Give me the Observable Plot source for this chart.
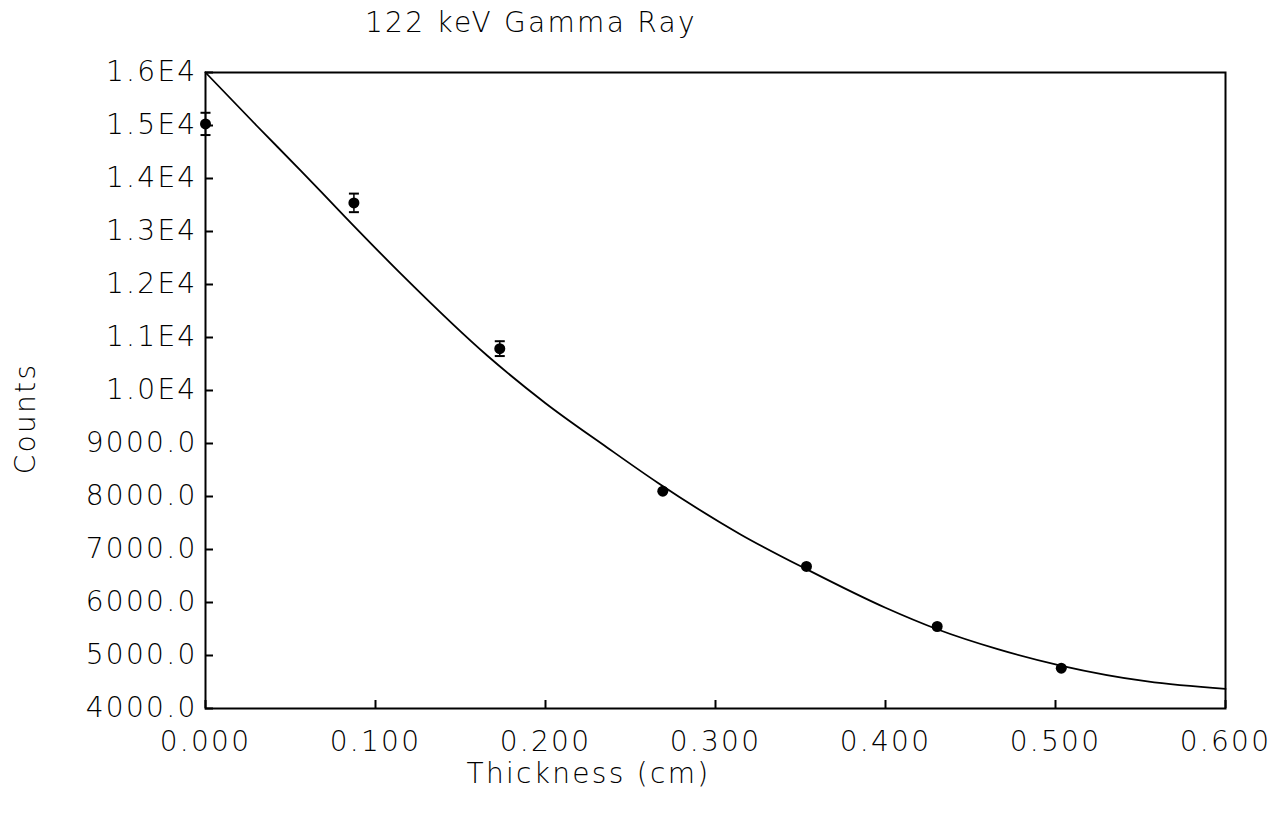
<!DOCTYPE html>
<html><head><meta charset="utf-8">
<script src="https://cdn.jsdelivr.net/npm/d3@7"></script>
<script src="https://cdn.jsdelivr.net/npm/@observablehq/plot@0.6"></script>
<style>
body{margin:0;background:#fff;}
#wrap{position:relative;width:1284px;height:815px;}
#title{position:absolute;left:365px;top:6px;font:200 28px "DejaVu Sans",sans-serif;letter-spacing:2.3px;white-space:nowrap;color:#000;}
</style></head><body><div id="wrap"><div id="title">122 keV Gamma Ray</div></div>
<script>
const thickness = [0, 0.0873, 0.1731, 0.269, 0.3535, 0.4304, 0.5034];
const counts = [15030, 13540, 10790, 8100, 6680, 5547, 4760];
const countErrors = [210, 175, 140, 0, 0, 0, 0];

const fitThickness = [0, 0.030, 0.056, 0.079, 0.115, 0.166, 0.200, 0.236, 0.266, 0.315, 0.354, 0.400, 0.430, 0.466, 0.503, 0.554, 0.600];
const fitCounts = [16000, 15000, 14150, 13380, 12200, 10650, 9760, 8930, 8260, 7280, 6620, 5900, 5500, 5120, 4810, 4510, 4370];

const xTicks = [0, 0.1, 0.2, 0.3, 0.4, 0.5, 0.6];
const xTickLabels = ["0.000", "0.100", "0.200", "0.300", "0.400", "0.500", "0.600"];
const yTicks = [4000, 5000, 6000, 7000, 8000, 9000, 10000, 11000, 12000, 13000, 14000, 15000, 16000];
const yTickLabels = ["4000.0", "5000.0", "6000.0", "7000.0", "8000.0", "9000.0", "1.0E4", "1.1E4", "1.2E4", "1.3E4", "1.4E4", "1.5E4", "1.6E4"];

const xLabel = "Thickness (cm)";
const yLabel = "Counts";

const pts = thickness.map((t, i) => ({t, c: counts[i], lo: counts[i] - countErrors[i], hi: counts[i] + countErrors[i], e: countErrors[i]}));
const errPts = pts.filter(d => d.e > 0);
const fit = fitThickness.map((t, i) => ({t, c: fitCounts[i]}));

const W = 1284, H = 815, ML = 205, MR = 59, MT = 72, MB = 107, TICK = 8;
const cap = {draw(ctx, size) { const w = Math.sqrt(size / Math.PI); ctx.moveTo(-w, 0); ctx.lineTo(w, 0); }};

const chart = Plot.plot({
  width: W, height: H,
  marginLeft: ML, marginRight: MR, marginTop: MT, marginBottom: MB,
  style: {fontFamily: '"DejaVu Sans", sans-serif', fontSize: "28px", fontWeight: 200, letterSpacing: "2.3px", background: "white", color: "black"},
  x: {domain: [0, 0.6]},
  y: {domain: [4000, 16000]},
  marks: [
    Plot.frame({stroke: "black", fill: "none", strokeWidth: 2}),
    Plot.axisX({ticks: xTicks, tickFormat: d => xTickLabels[xTicks.indexOf(d)], tickSize: 0, tickPadding: 23, label: null}),
    Plot.axisY({ticks: yTicks, tickFormat: d => yTickLabels[yTicks.indexOf(d)], tickSize: 0, tickPadding: 8, label: null}),
    Plot.ruleY(yTicks, {y: d => d, insetRight: W - ML - MR - TICK, stroke: "black", strokeWidth: 2}),
    Plot.ruleX(xTicks, {x: d => d, insetTop: H - MT - MB - TICK, stroke: "black", strokeWidth: 2}),
    Plot.line(fit, {x: "t", y: "c", curve: "monotone-x", stroke: "black", strokeWidth: 1.8}),
    Plot.ruleX(errPts, {x: "t", y1: "lo", y2: "hi", stroke: "black", strokeWidth: 1.5}),
    Plot.dot(errPts, {x: "t", y: "lo", symbol: cap, r: 5, stroke: "black", strokeWidth: 2}),
    Plot.dot(errPts, {x: "t", y: "hi", symbol: cap, r: 5, stroke: "black", strokeWidth: 2}),
    Plot.dot(pts, {x: "t", y: "c", r: 5.5, fill: "black", stroke: "none"}),
    Plot.text([xLabel], {frameAnchor: "bottom", textAnchor: "middle", lineAnchor: "middle", dx: -127, dy: 66, fill: "black"}),
    Plot.text([yLabel], {frameAnchor: "left", textAnchor: "middle", lineAnchor: "middle", dx: -179, dy: 28, rotate: -90, fill: "black"})
  ]
});
document.getElementById("wrap").appendChild(chart);
</script></body></html>
